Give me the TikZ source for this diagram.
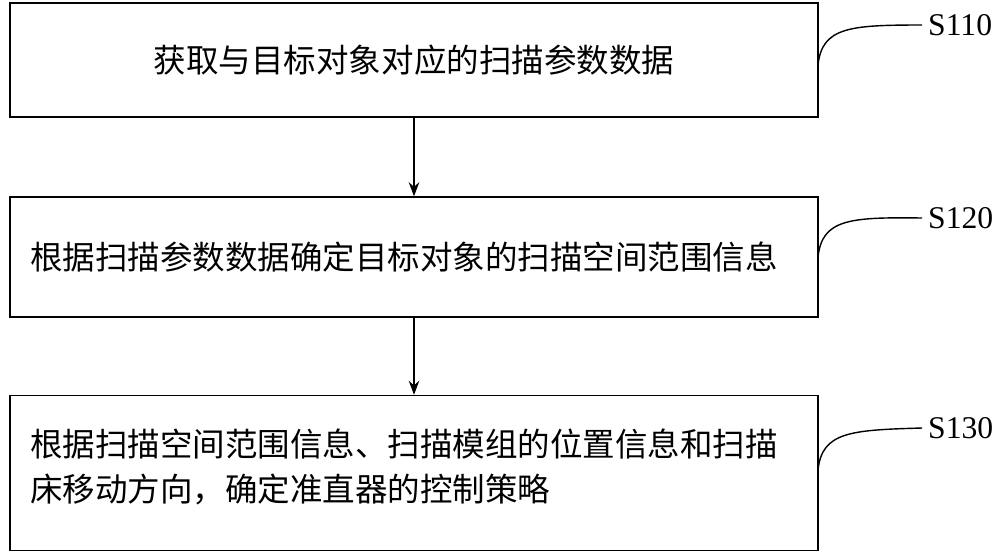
\documentclass[tikz,border=0pt]{standalone}
\usepackage{fontspec}
\newfontfamily\cjk{Noto Sans CJK SC}
\setmainfont{Liberation Serif}
\usetikzlibrary{arrows.meta}
\begin{document}
\begin{tikzpicture}[x=0.02cm,y=-0.02cm,>={Stealth[length=8pt,width=6pt]},
  step box/.style={draw,thick,minimum width=808*0.02cm,inner sep=0pt,font=\cjk\fontsize{18.5pt}{26pt}\selectfont},
  step text/.style={font=\cjk\fontsize{18.5pt}{26pt}\selectfont,anchor=west,align=left},
  step tag/.style={font=\fontsize{18pt}{18pt}\selectfont,anchor=west}]
  \useasboundingbox (0,0) rectangle (1000,556);
  \node[step box,minimum height=114*0.02cm] (b1) at (414,60) {获取与目标对象对应的扫描参数数据};
  \node[step box,minimum height=120*0.02cm] (b2) at (414,257) {};
  \node[step text] (t2) at (24,257) {根据扫描参数数据确定目标对象的扫描空间范围信息};
  \node[step box,minimum height=155*0.02cm] (b3) at (414,473) {};
  \node[step text] (t3) at (24,467)
    {根据扫描空间范围信息、扫描模组的位置信息和扫描\\床移动方向，确定准直器的控制策略};
  \draw[->,thick] (b1) -- (b2);
  \draw[->,thick] (b2) -- (b3);
  % step tags
  \node[step tag] (s1) at (922,25) {S110};
  \node[step tag] (s2) at (922,218) {S120};
  \node[step tag] (s3) at (922,428) {S130};
  \foreach \s/\y in {s1/65, s2/257, s3/470}
    \draw[thick] (818,\y) .. controls (822,\y-38) and (850,\y-40) .. (\s.west);
\end{tikzpicture}
\end{document}
